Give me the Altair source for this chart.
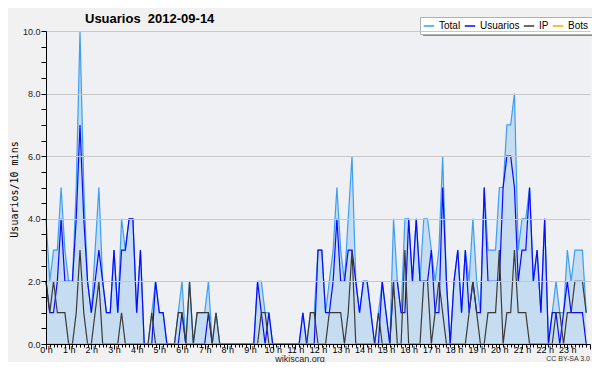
import altair as alt
import pandas as pd

# 10-minute slots of the day (minutes since 00:00)
minutes = list(range(0, 1440, 10))

total = [4,2,3,3,5,3,2,2,5,10, 5,2,1,3,5,2,1,1,3,1, 4,3,4,4,1,3,0,0,1,2,
         1,1,0,0,0,1,2,0,2,0, 1,1,1,2,0,1,0,0,0,0, 0,0,0,0,0,0,2,2,1,1,
         0,0,0,0,0,0,0,0,1,0, 1,1,3,3,1,2,3,5,3,2, 4,6,2,1,2,2,1,0,1,2,
         1,0,4,2,1,4,4,2,4,2, 4,4,3,2,3,6,2,0,2,3, 1,3,2,4,2,1,5,3,3,3,
         5,5,7,7,8,3,4,4,5,2, 3,1,4,0,1,2,1,1,3,2, 3,3,3,1]
usuarios = [2,1,1,2,4,2,2,2,4,7, 4,2,1,2,3,2,1,1,3,1, 3,3,4,4,1,3,0,0,0,2,
            1,1,0,0,0,0,1,0,0,0, 0,0,0,1,0,0,0,0,0,0, 0,0,0,0,0,0,2,1,0,1,
            0,0,0,0,0,0,0,0,1,0, 0,0,3,3,1,1,2,4,2,2, 3,3,2,1,2,2,1,0,0,2,
            1,0,2,2,1,1,4,2,4,2, 2,2,3,1,1,5,2,0,2,3, 1,3,1,2,1,1,5,2,2,2,
            2,5,6,6,5,2,3,3,5,2, 3,1,4,0,1,1,0,1,2,1, 1,1,1,0]
ip = [2,1,2,1,1,1,0,0,1,3, 1,0,0,1,2,0,0,0,0,0, 1,0,0,0,0,0,0,0,1,0,
      0,0,0,0,0,1,1,0,2,0, 1,1,1,1,0,1,0,0,0,0, 0,0,0,0,0,0,0,1,1,0,
      0,0,0,0,0,0,0,0,0,0, 1,1,0,0,0,1,1,1,1,0, 1,3,0,0,0,0,0,0,1,0,
      0,0,2,0,0,3,0,0,0,0, 2,2,0,1,2,1,0,0,0,0, 0,0,1,2,1,0,0,1,1,1,
      3,0,1,1,3,1,1,1,0,0, 0,0,0,0,0,1,1,0,1,1, 2,2,2,1]
bots = [0] * 144

series = ["Total", "Usuarios", "IP", "Bots"]
series_colors = ["#3d9ef2", "#0a0aff", "#3a3a3a", "#ffa500"]

x_ticks = list(range(0, 1441, 10))
y_ticks = [0, 0.5, 1, 1.5, 2, 2.5, 3, 3.5, 4, 4.5, 5, 5.5, 6, 6.5, 7, 7.5, 8, 8.5, 9, 9.5, 10]

chart_title = "Usuarios \u00a02012-09-14"
y_title = "Usuarios/10 mins"
source_text = "wikiscan.org"
license_text = "CC BY-SA 3.0"

df = pd.DataFrame({"t": minutes, "Total": total, "Usuarios": usuarios, "IP": ip, "Bots": bots})
long = df.melt("t", value_vars=series, var_name="serie", value_name="v")

xscale = alt.Scale(domain=[0, 1440], nice=False, zero=False)
yscale = alt.Scale(domain=[0, 10], nice=False)

x_axis = alt.Axis(
    values=x_ticks,
    labelExpr="datum.value % 60 == 0 && datum.value < 1440 ? (datum.value / 60) + ' h' : ''",
    labelOverlap=False, labelFlush=False,
    tickSize={"condition": {"test": "datum.value % 60 == 0", "value": 5}, "value": 3},
    tickColor="black", domainColor="black", tickWidth=1, domainWidth=1,
    labelFont="Liberation Sans", labelFontSize=9, labelColor="black", labelPadding=-4,
    grid=False, title=None, zindex=1,
)
y_axis = alt.Axis(
    values=y_ticks,
    labelExpr="datum.value % 2 == 0 ? format(datum.value, '.1f') : ''",
    labelOverlap=False, labelFlush=False,
    tickSize=5, tickColor="black", domainColor="black", tickWidth=1, domainWidth=1,
    labelFont="Liberation Sans", labelFontSize=9, labelColor="#222", labelPadding=1,
    grid=True, gridWidth=1,
    gridColor={"condition": {"test": "datum.value % 2 == 0 && datum.value > 0", "value": "#c8c8c8"},
               "value": "transparent"},
    title=y_title, titleFont="DejaVu Sans Mono", titleFontSize=10, titleFontWeight="normal",
    titleColor="black", titleX=-32, titleY=158, titleAlign="center",
    titleBaseline="middle", zindex=1,
)

legend = alt.Legend(
    orient="none", legendX=374, legendY=-14, direction="horizontal", title=None,
    symbolType="stroke", symbolSize=110, symbolStrokeWidth=1.5,
    labelFont="Liberation Sans", labelFontSize=10, labelColor="black", labelOffset=4,
    fillColor="white", strokeColor="#b0b0b0", padding=3, columnPadding=0,
)

shadow = alt.Chart(pd.DataFrame({"k": [0]})).mark_rect(color="#8c8c8c").encode(
    x=alt.value(377), x2=alt.value(548), y=alt.value(-11), y2=alt.value(5)
)

area = alt.Chart(df).mark_area(color="#c6dcf0", opacity=1, interpolate="linear").encode(
    x=alt.X("t:Q", scale=xscale, axis=x_axis),
    y=alt.Y("Total:Q", scale=yscale, axis=y_axis),
)

lines = alt.Chart(long).mark_line(strokeWidth=1.2, interpolate="linear").encode(
    x=alt.X("t:Q", scale=xscale, axis=x_axis),
    y=alt.Y("v:Q", scale=yscale, axis=y_axis),
    color=alt.Color("serie:N", scale=alt.Scale(domain=series, range=series_colors), legend=legend),
)

title_mark = alt.Chart(pd.DataFrame({"txt": [chart_title]})).mark_text(
    font="Liberation Sans", fontSize=13, fontWeight="bold", align="left",
    baseline="alphabetic", color="black"
).encode(x=alt.value(39), y=alt.value(-8), text="txt:N")

source_mark = alt.Chart(pd.DataFrame({"txt": [source_text]})).mark_text(
    font="Liberation Sans", fontSize=9, align="center", baseline="middle", color="#222"
).encode(x=alt.value(254), y=alt.value(327.5), text="txt:N")

license_mark = alt.Chart(pd.DataFrame({"txt": [license_text]})).mark_text(
    font="Liberation Sans", fontSize=7, align="right", baseline="middle", color="#333"
).encode(x=alt.value(544), y=alt.value(328), text="txt:N")

chart = alt.layer(shadow, area, lines, title_mark, source_mark, license_mark).properties(
    width=544, height=313,
    padding={"left": 38, "top": 23, "right": 2, "bottom": 18},
    autosize=alt.AutoSizeParams(type="none"),
).configure(background="#f1f1f1").configure_view(fill="#eef0f3", strokeWidth=0)

chart.save("out.html", embed_options={"renderer": "svg", "actions": False})
